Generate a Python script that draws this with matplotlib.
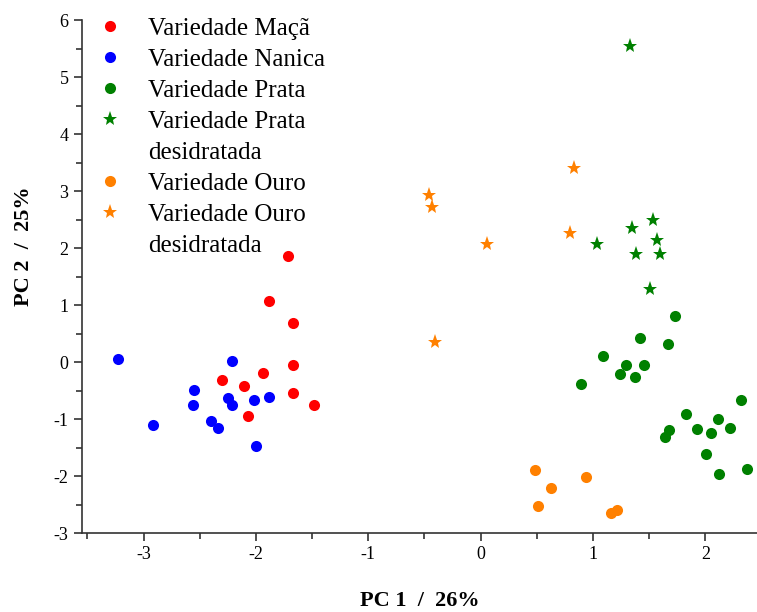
import matplotlib.pyplot as plt
from matplotlib.lines import Line2D
from matplotlib.ticker import MultipleLocator

plt.rcParams['font.family'] = ['Liberation Serif', 'DejaVu Serif']
plt.rcParams['axes.unicode_minus'] = False

# PCA scores (PC1, PC2) per banana variety
maca_pc1 = [-1.71, -1.88, -1.67, -1.67, -1.94, -2.30, -2.11, -1.67, -1.48, -2.07]
maca_pc2 = [1.86, 1.08, 0.68, -0.05, -0.19, -0.32, -0.42, -0.54, -0.75, -0.94]

nanica_pc1 = [-3.23, -2.21, -2.55, -2.56, -2.25, -2.21, -2.02, -1.88, -2.92, -2.40, -2.34, -2.00]
nanica_pc2 = [0.05, 0.02, -0.49, -0.75, -0.63, -0.75, -0.67, -0.61, -1.10, -1.04, -1.16, -1.47]

prata_pc1 = [1.73, 1.42, 1.67, 1.09, 1.29, 1.45, 1.24, 1.37, 0.89, 2.32,
             1.83, 2.11, 1.93, 2.05, 2.22, 1.68, 1.64, 2.01, 2.12, 2.37]
prata_pc2 = [0.81, 0.43, 0.31, 0.11, -0.05, -0.05, -0.21, -0.27, -0.38, -0.67,
             -0.91, -0.99, -1.18, -1.24, -1.15, -1.19, -1.31, -1.61, -1.96, -1.88]

prata_des_pc1 = [1.33, 1.53, 1.35, 1.04, 1.57, 1.38, 1.60, 1.51]
prata_des_pc2 = [5.55, 2.49, 2.35, 2.08, 2.15, 1.89, 1.89, 1.28]

ouro_pc1 = [0.48, 0.94, 0.63, 0.51, 1.16, 1.21]
ouro_pc2 = [-1.89, -2.02, -2.21, -2.53, -2.64, -2.60]

ouro_des_pc1 = [0.83, -0.46, -0.43, 0.06, 0.80, -0.41]
ouro_des_pc2 = [3.40, 2.94, 2.72, 2.08, 2.27, 0.35]

series = [
    (maca_pc1, maca_pc2, 'o', '#ff0000', 'Variedade Maçã'),
    (nanica_pc1, nanica_pc2, 'o', '#0000ff', 'Variedade Nanica'),
    (prata_pc1, prata_pc2, 'o', '#008000', 'Variedade Prata'),
    (prata_des_pc1, prata_des_pc2, '*', '#008000', 'Variedade Prata'),
    (ouro_pc1, ouro_pc2, 'o', '#ff8000', 'Variedade Ouro'),
    (ouro_des_pc1, ouro_des_pc2, '*', '#ff8000', 'Variedade Ouro'),
]

fig = plt.figure(figsize=(7.57, 6.12), dpi=100)
ax = fig.add_axes([0.108, 0.129, 0.892, 0.838])

handles, labels = [], []
for x, y, m, c, lab in series:
    ms = 8 if m == 'o' else 11
    h, = ax.plot(x, y, linestyle='none', marker=m, color=c, markersize=ms,
                 markeredgewidth=0, clip_on=False)
    handles.append(h)
    labels.append(lab)
    if m == '*':
        # second line of the label, without a marker
        handles.append(Line2D([], [], linestyle='none'))
        labels.append('desidratada')

ax.set_xlim(-3.55, 2.46)
ax.set_ylim(-3, 6)
ax.xaxis.set_major_locator(MultipleLocator(1))
ax.xaxis.set_minor_locator(MultipleLocator(0.5))
ax.yaxis.set_major_locator(MultipleLocator(1))
ax.yaxis.set_minor_locator(MultipleLocator(0.5))
ax.tick_params(which='both', direction='out', labelsize=13, width=1.2, color='#333333')
ax.tick_params(which='major', length=6)
ax.tick_params(which='minor', length=4)
for side in ('top', 'right'):
    ax.spines[side].set_visible(False)
for side in ('left', 'bottom'):
    ax.spines[side].set_linewidth(1.2)
    ax.spines[side].set_color('#333333')

ax.set_xlabel('PC 1  /  26%', fontsize=16, fontweight='bold', labelpad=20)
ax.set_ylabel('PC 2  /  25%', fontsize=16, fontweight='bold')
ax.yaxis.set_label_coords(-0.07, 0.56)

ax.legend(handles, labels, loc='upper left', bbox_to_anchor=(0.0, 1.04),
          frameon=False, fontsize=18, handlelength=0.8, handletextpad=1.12,
          labelspacing=0.34, borderpad=0.32, borderaxespad=0.4)

fig.savefig('out.png', dpi=100)
